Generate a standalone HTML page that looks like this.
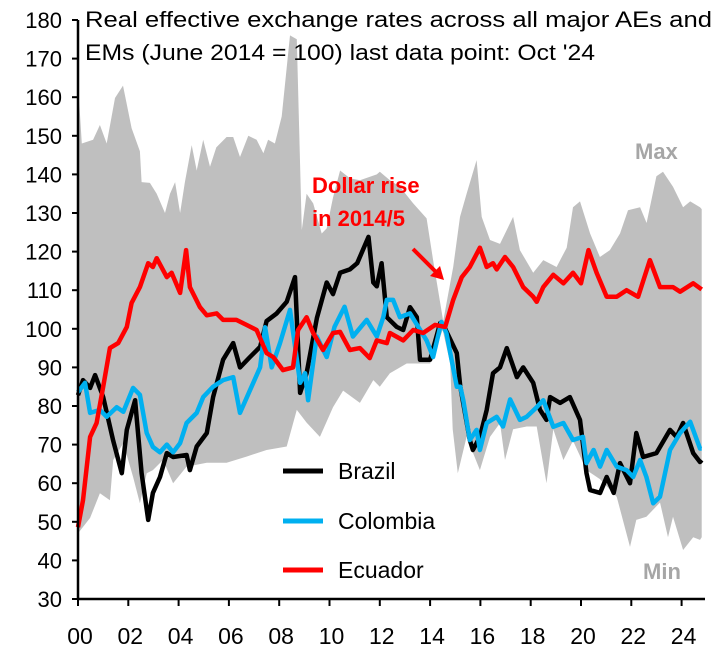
<!DOCTYPE html>
<html><head><meta charset="utf-8">
<style>
html,body{margin:0;padding:0;background:#fff;}
svg{display:block;font-family:"Liberation Sans",Arial,sans-serif;}
</style></head>
<body>
<svg id="chart" width="725" height="653" viewBox="0 0 725 653" xmlns="http://www.w3.org/2000/svg">
<g id="band"></g>
<g id="lines"></g>
<g id="axes"></g>
<text x="85" y="27" font-size="22" textLength="627" lengthAdjust="spacingAndGlyphs" fill="#000">Real effective exchange rates across all major AEs and</text>
<text x="85" y="60" font-size="22" textLength="510" lengthAdjust="spacingAndGlyphs" fill="#000">EMs (June 2014 = 100) last data point: Oct '24</text>
<text x="635" y="159" font-size="22" font-weight="bold" fill="#a6a6a6">Max</text>
<text x="643" y="579" font-size="22" font-weight="bold" fill="#a6a6a6">Min</text>
<text x="312" y="193" font-size="22" font-weight="bold" fill="#ff0000">Dollar rise</text>
<text x="312" y="226" font-size="22" font-weight="bold" fill="#ff0000">in 2014/5</text>
<line x1="413" y1="249" x2="436" y2="272" stroke="#ff0000" stroke-width="4"/>
<polygon points="444,280 430,276 440,266" fill="#ff0000"/>
<g>
<line x1="283" y1="471" x2="323" y2="471" stroke="#000" stroke-width="5"/>
<text x="338" y="479" font-size="23">Brazil</text>
<line x1="283" y1="521" x2="323" y2="521" stroke="#00b0f0" stroke-width="5"/>
<text x="338" y="529" font-size="23">Colombia</text>
<line x1="283" y1="570" x2="323" y2="570" stroke="#ff0000" stroke-width="5"/>
<text x="338" y="578" font-size="23">Ecuador</text>
</g>
</svg>
<script>
const maxT=[0,0.15,0.6,0.87,1.14,1.47,1.79,2.13,2.46,2.53,2.86,3.13,3.46,3.66,3.86,4.06,4.25,4.52,4.72,4.98,5.25,5.5,5.91,6.17,6.44,6.77,7.1,7.37,7.56,7.83,8.1,8.43,8.7,8.9,9.09,9.35,9.69,9.89,10.14,10.42,10.81,11.21,11.88,12.0,12.4,12.8,13.33,13.86,14.12,14.4,14.52,14.92,15.19,15.45,15.85,16.05,16.38,16.78,17.3,17.57,18.1,18.5,19.03,19.43,19.68,19.96,20.36,20.75,21.15,21.55,21.87,22.35,22.61,23.0,23.26,23.66,24.06,24.34,24.73,24.8];
const maxV=[163.7,148,149,152.8,148,159.8,163,152,146,138,137.8,135,130,135,138,130,138,147.6,141,149,142,147,149.7,149.7,144.5,150,149,145.5,149,148,155,176,175,125.6,135,132.5,124.7,126,134,141,139,138.5,140,140.7,138.5,136.8,132.5,128.6,117.8,106.7,102,116,129,135,143.7,129,123,122,129,120.4,114.5,117.8,116,121,131.5,133,124.7,118.6,120.4,124.7,130.7,131.5,127.4,139.5,140.7,136.8,131.5,133,131.5,131];
const minT=[0,0.48,0.87,1.27,1.4,1.8,2.19,2.46,2.73,2.98,3.38,3.78,4.32,5.12,5.91,6.7,7.5,8.3,8.7,9.09,9.62,10.14,10.54,11.21,11.74,12.0,12.4,13.07,14.0,14.5,14.8,14.9,15.1,15.45,15.98,16.38,16.78,16.98,17.3,17.84,18.24,18.63,18.9,19.3,19.68,20.22,20.76,21.42,21.95,22.2,22.6,23.14,23.46,23.66,24.06,24.46,24.73,24.8];
const minV=[47,51,57.4,55.6,66,70.4,61.6,54.8,62.6,63.4,66,60,64.3,65.3,65.3,66.9,68.6,69.5,79,75.7,72,79.7,84,80.8,86.7,85,88.5,91,91,99.7,91,74,62.6,72,63.4,72,75.6,66,74,74.7,74.7,60,74,66,71,63.4,61,56.5,43.5,50.5,51.3,55,46,51.3,42.7,46,45.3,46];
const brT=[0,0.2,0.48,0.68,1.0,1.4,1.74,1.94,2.27,2.53,2.79,2.98,3.26,3.53,3.78,4.32,4.45,4.72,5.12,5.37,5.77,6.17,6.44,6.84,7.24,7.5,7.9,8.3,8.63,8.83,9.09,9.5,9.89,10.14,10.42,10.81,11.1,11.55,11.74,11.88,12.07,12.28,12.67,12.93,13.2,13.47,13.6,14.0,14.4,14.6,15.06,15.2,15.58,15.7,15.98,16.25,16.5,16.78,17.05,17.45,17.7,18.1,18.37,18.63,18.77,19.17,19.56,19.96,20.22,20.36,20.76,21.02,21.3,21.55,21.95,22.2,22.47,23.0,23.54,23.8,24.06,24.46,24.73,24.8];
const brV=[82.8,86.7,84.7,88,82.3,71,62.6,73.8,81.5,62.6,50.5,57.5,61.6,67.8,66.8,67.3,63.4,69.5,73,82.3,92,96.3,90,92.7,95.3,102,104,107,113.4,83.4,88.5,102.8,112,109,114.5,115.4,117,123.8,112,111,117,103,100.5,99.7,105.6,103,92,92,101.5,100,93.7,85,71.2,68.6,72,79,88.5,90,95,87.5,90,86,79,76.4,82.3,80.8,82.3,76.4,62.6,58.2,57.5,61.6,57.5,65.2,60,73,66.8,67.8,73.8,72,75.6,67.8,65.5,66];
const coT=[0,0.28,0.48,0.87,1.14,1.54,1.8,2.19,2.46,2.73,2.98,3.26,3.53,3.78,4.06,4.32,4.72,4.98,5.37,5.77,6.17,6.44,6.84,7.24,7.44,7.7,8.03,8.43,8.83,9.03,9.15,9.49,9.89,10.2,10.6,10.93,11.48,11.88,12.14,12.28,12.53,12.8,13.2,13.86,14.12,14.45,14.65,15.06,15.2,15.32,15.58,15.85,15.98,16.25,16.65,16.9,17.18,17.57,17.84,18.24,18.5,18.9,19.3,19.68,20.08,20.22,20.5,20.76,21.02,21.42,21.81,22.07,22.35,22.6,22.87,23.14,23.54,23.94,24.34,24.73,24.8];
const coV=[83.6,86,78.2,79,77.2,79.7,78.5,84.7,82.9,73,69.4,68,70,68,70.4,75.6,78.2,82.3,85,86.7,87.5,78.2,84.1,90,100.4,90,96.3,104.9,86,88.5,81.5,98,92.7,100.5,105.7,98,102.3,98,103,107.5,107.5,103,104,97,92.7,101.8,98.9,85,85,81.5,71.2,73.8,68.6,75.6,77.2,74.7,81.7,76.4,77.2,79.7,81.5,74.6,75.6,71.2,72,65.2,68.6,64.3,68.6,64.3,63.4,61.6,66,61.6,54.8,56.5,68.6,73,75.9,69,69];
const ecT=[0,0.2,0.48,0.74,1.0,1.27,1.6,1.94,2.13,2.46,2.79,2.98,3.13,3.53,3.72,4.06,4.3,4.45,4.85,5.12,5.51,5.77,6.3,6.7,7.1,7.5,7.76,8.15,8.55,8.75,9.09,9.35,9.74,10.14,10.42,10.81,11.21,11.6,11.88,12.28,12.4,12.93,13.33,13.72,14.2,14.6,14.92,15.26,15.58,15.98,16.25,16.5,16.65,16.98,17.3,17.7,18.1,18.24,18.5,18.9,19.3,19.68,20.0,20.3,20.62,21.02,21.42,21.81,22.27,22.74,23.14,23.66,23.94,24.46,24.8];
const ecV=[48.6,55.6,72,75.6,85,95,96.3,100.5,106.7,110.8,117,116,118.3,113.4,114.5,109.3,120.4,110.8,105.6,103.5,104,102.3,102.3,101,99.7,93.7,92.7,89.3,90,99.7,103,98.9,94.5,98.9,99.2,94.5,95,92.4,97,96.3,98.9,97,99.7,98.9,101,100.5,107.5,113.4,116,121,116,117,115.4,118.6,116,110.8,108.3,107,110.8,114,111.8,114.5,111.8,120.4,114.5,108.3,108.3,110,108.3,117.8,110.8,110.8,109.6,111.8,110.2];
const yTicks=[30,40,50,60,70,80,90,100,110,120,130,140,150,160,170,180];
const xTickYears=[0,2,4,6,8,10,12,14,16,18,20,22,24];
const xTickLabels=["00","02","04","06","08","10","12","14","16","18","20","22","24"];

(function(){
const NS="http://www.w3.org/2000/svg";
const X0=78,PXY=25.15,Y0=599,PXV=3.86;
function xs(t){return X0+t*PXY;}
function ys(v){return Y0-(v-30)*PXV;}
function mk(tag,attrs,parent){const e=document.createElementNS(NS,tag);for(const k in attrs)e.setAttribute(k,attrs[k]);parent.appendChild(e);return e;}
function pts(T,V){return T.map((t,i)=>xs(t).toFixed(1)+","+ys(V[i]).toFixed(1));}

const band=document.getElementById('band');
const upper=pts(maxT,maxV), lower=pts(minT,minV).reverse();
const poly=mk('polygon',{points:upper.concat(lower).join(' '),fill:'#bfbfbf'},band);



const lines=document.getElementById('lines');
const series=[[brT,brV,'#000000','brazil-line'],[coT,coV,'#00b0f0','colombia-line'],[ecT,ecV,'#ff0000','ecuador-line']];
series.forEach(s=>{
  const p=mk('polyline',{points:pts(s[0],s[1]).join(' '),fill:'none',stroke:s[2],'stroke-width':4.5,'stroke-linejoin':'round'},lines);
  
  
});

const axes=document.getElementById('axes');
const ya=mk('line',{x1:X0,y1:ys(180),x2:X0,y2:Y0,stroke:'#000','stroke-width':2.5},axes);


const xa=mk('line',{x1:X0,y1:Y0,x2:705,y2:Y0,stroke:'#000','stroke-width':2.5},axes);


yTicks.forEach(v=>{
  const t=mk('line',{x1:X0-6,y1:ys(v),x2:X0,y2:ys(v),stroke:'#000','stroke-width':2},axes);
  
  
  const l=mk('text',{x:62,y:ys(v)+8,'text-anchor':'end','font-size':22},axes);
  l.textContent=v;
  
  
});
xTickYears.forEach((yr,i)=>{
  const t=mk('line',{x1:xs(yr),y1:Y0,x2:xs(yr),y2:Y0+7,stroke:'#000','stroke-width':2},axes);
  
  
  const l=mk('text',{x:xs(yr)+2,y:644,'text-anchor':'middle','font-size':23},axes);
  l.textContent=xTickLabels[i];
  
  
});
})();
</script>
</body></html>
